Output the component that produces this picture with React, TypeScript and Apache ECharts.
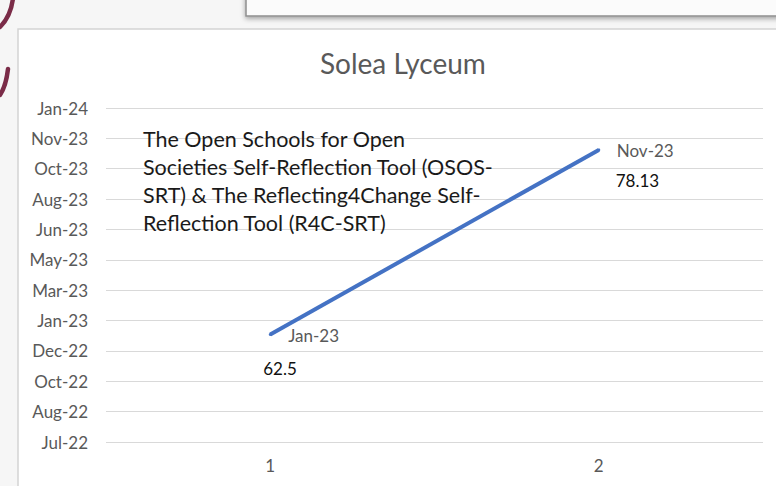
import React, { useEffect, useRef } from "react";
import * as echarts from "echarts";

// ---- Data ----
const categories = ["1", "2"];
const surveyDates = ["2023-01-01", "2023-11-01"];
const scores = [62.5, 78.13];
const axisStartDate = "2022-07-08";
const axisEndDate = "2024-01-09";
const axisStepDays = 50;
const chartTitle = "Solea Lyceum";
const noteLines = [
  "The Open Schools for Open",
  "Societies Self-Reflection Tool (OSOS-",
  "SRT) & The Reflecting4Change Self-",
  "Reflection Tool (R4C-SRT)",
];

const MONTHS = ["Jan", "Feb", "Mar", "Apr", "May", "Jun", "Jul", "Aug", "Sep", "Oct", "Nov", "Dec"];
const EXCEL_EPOCH = Date.UTC(1899, 11, 30);
const DAY = 86400000;

function toSerial(iso: string): number {
  const [y, m, d] = iso.split("-").map(Number);
  return Math.round((Date.UTC(y, m - 1, d) - EXCEL_EPOCH) / DAY);
}
function fmtSerial(serial: number): string {
  const d = new Date(EXCEL_EPOCH + serial * DAY);
  return MONTHS[d.getUTCMonth()] + "-" + String(d.getUTCFullYear() % 100).padStart(2, "0");
}

const FONT = "Lato";
const GRAY = "#595959";

export default function App() {
  const ref = useRef<HTMLDivElement>(null);
  useEffect(() => {
    if (!ref.current) return;
    const chart = echarts.init(ref.current, undefined, { renderer: "svg" });
    const serials = surveyDates.map(toSerial);
    const scoreOffsets: [number, number][] = [
      [-7, 34],
      [17, 31],
    ];
    chart.setOption({
      animation: false,
      backgroundColor: "#f6f6f6",
      title: {
        text: chartTitle,
        left: 315,
        top: 44,
        textStyle: { fontFamily: FONT, fontSize: 28, fontWeight: "normal", color: GRAY },
      },
      grid: { left: 106, right: 13, top: 108, bottom: 44, containLabel: false },
      xAxis: {
        type: "category",
        data: categories,
        boundaryGap: true,
        axisLine: { show: false },
        axisTick: { show: false },
        axisLabel: { color: GRAY, fontFamily: FONT, fontSize: 17, margin: 15 },
      },
      yAxis: {
        type: "value",
        min: toSerial(axisStartDate),
        max: toSerial(axisEndDate),
        interval: axisStepDays,
        axisLine: { show: false },
        axisTick: { show: false },
        splitLine: { lineStyle: { color: "#d9d9d9", width: 1 } },
        axisLabel: {
          color: GRAY,
          fontFamily: FONT,
          fontSize: 17,
          margin: 18,
          formatter: (v: number) => fmtSerial(v),
        },
      },
      graphic: [
        {
          type: "rect",
          z: -10,
          shape: { x: 18, y: 29, width: 770, height: 470 },
          style: { fill: "#ffffff", stroke: "#d4d4d4", lineWidth: 1.5 },
        },
        {
          type: "rect",
          z: -8,
          shape: { x: 246, y: -10, width: 560, height: 26 },
          style: {
            fill: "#fbfbfb",
            stroke: "#8f8f8f",
            lineWidth: 1.5,
            shadowBlur: 5,
            shadowColor: "rgba(0,0,0,0.35)",
            shadowOffsetY: 2,
          },
        },
        {
          type: "bezierCurve",
          z: -5,
          shape: { x1: 13, y1: -2, x2: 0, y2: 27, cpx1: 11, cpy1: 16 },
          style: { stroke: "#7b2c48", lineWidth: 4.5, lineCap: "round", fill: "none" },
        },
        {
          type: "bezierCurve",
          z: -5,
          shape: { x1: 8, y1: 69, x2: 0, y2: 95, cpx1: 6, cpy1: 86 },
          style: { stroke: "#7b2c48", lineWidth: 4.5, lineCap: "round", fill: "none" },
        },
        {
          type: "text",
          z: 10,
          x: 143,
          y: 125,
          style: {
            text: noteLines.join("\n"),
            fontFamily: FONT,
            fontSize: 21.5,
            lineHeight: 28,
            fill: "#1a1a1a",
            verticalAlign: "top",
          },
        },
      ],
      series: [
        {
          type: "line",
          data: serials,
          symbol: "circle",
          symbolSize: 3,
          showSymbol: true,
          itemStyle: { color: "#4472C4" },
          lineStyle: { color: "#4472C4", width: 4 },
          label: {
            show: true,
            position: "inside",
            align: "left",
            verticalAlign: "middle",
            offset: [18, 1],
            color: GRAY,
            fontFamily: FONT,
            fontSize: 17,
            formatter: (p: any) => fmtSerial(p.value),
          },
          z: 3,
        },
        {
          type: "line",
          data: serials.map((v, i) => ({
            value: v,
            label: { offset: scoreOffsets[i] },
          })),
          symbol: "circle",
          symbolSize: 1,
          itemStyle: { color: "rgba(0,0,0,0)" },
          lineStyle: { width: 0, opacity: 0 },
          label: {
            show: true,
            position: "inside",
            align: "left",
            verticalAlign: "middle",
            color: "#111111",
            fontFamily: FONT,
            fontSize: 17,
            formatter: (p: any) => String(scores[p.dataIndex]),
          },
          z: 3,
        },
      ],
    });
    return () => chart.dispose();
  }, []);
  return (
    <div
      ref={ref}
      style={{ position: "fixed", left: 0, top: 0, width: 776, height: 486 }}
    />
  );
}
